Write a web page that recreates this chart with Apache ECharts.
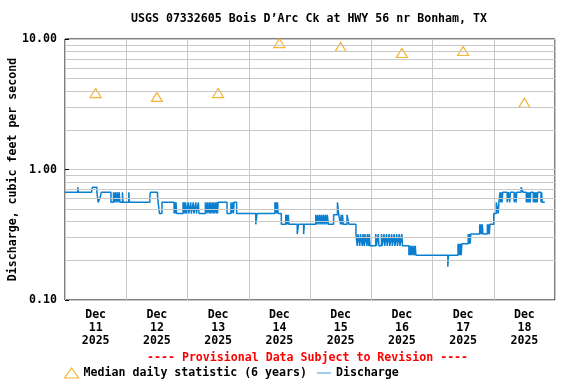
<!DOCTYPE html>
<html>
<head>
<meta charset="utf-8">
<script src="https://cdn.jsdelivr.net/npm/echarts@6/dist/echarts.min.js"></script>
<style>
  html, body { margin: 0; padding: 0; background: #fff; }
  #chart { width: 576px; height: 384px; }
</style>
</head>
<body>
<div id="chart"></div>
<script>
var dayLabels = ['Dec\n11\n2025', 'Dec\n12\n2025', 'Dec\n13\n2025', 'Dec\n14\n2025',
  'Dec\n15\n2025', 'Dec\n16\n2025', 'Dec\n17\n2025', 'Dec\n18\n2025'];

// median daily statistic, plotted at noon of each day
var medianDates = ['2025-12-11 12:00', '2025-12-12 12:00', '2025-12-13 12:00', '2025-12-14 12:00',
  '2025-12-15 12:00', '2025-12-16 12:00', '2025-12-17 12:00', '2025-12-18 12:00'];
var medianValues = [3.85, 3.6, 3.85, 9.3, 8.7, 7.8, 8.1, 3.25];

// 15-minute discharge, only the points where the value changes
var flowTimes = [
  '12-11 00:00', '12-11 05:00', '12-11 05:15', '12-11 10:30', '12-11 10:45', '12-11 12:30',
  '12-11 13:00', '12-11 13:45', '12-11 14:15', '12-11 18:00', '12-11 19:00', '12-11 19:15',
  '12-11 19:45', '12-11 20:00', '12-11 20:30', '12-11 20:45', '12-11 21:15', '12-11 21:30',
  '12-11 22:30', '12-11 22:45', '12-12 01:00', '12-12 01:15', '12-12 09:15', '12-12 09:30',
  '12-12 12:15', '12-12 13:00', '12-12 14:00', '12-12 18:45', '12-12 19:00', '12-12 19:15',
  '12-12 19:30', '12-12 19:45', '12-12 22:15', '12-12 22:30', '12-12 22:45', '12-12 23:00',
  '12-12 23:15', '12-12 23:30', '12-13 00:15', '12-13 00:30', '12-13 01:15', '12-13 01:30',
  '12-13 02:15', '12-13 02:30', '12-13 03:15', '12-13 03:30', '12-13 04:15', '12-13 04:30',
  '12-13 07:00', '12-13 07:15', '12-13 07:45', '12-13 08:00', '12-13 08:30', '12-13 08:45',
  '12-13 09:00', '12-13 09:15', '12-13 09:45', '12-13 10:00', '12-13 10:15', '12-13 10:30',
  '12-13 11:00', '12-13 11:15', '12-13 11:30', '12-13 11:45', '12-13 12:00', '12-13 15:30',
  '12-13 17:00', '12-13 17:15', '12-13 17:45', '12-13 18:00', '12-13 18:15', '12-13 19:15',
  '12-14 02:45', '12-14 03:15', '12-14 10:15', '12-14 10:30', '12-14 10:45', '12-14 11:00',
  '12-14 11:15', '12-14 11:30', '12-14 12:45', '12-14 14:30', '12-14 14:45', '12-14 15:00',
  '12-14 15:15', '12-14 15:30', '12-14 15:45', '12-14 19:00', '12-14 19:30', '12-14 21:30',
  '12-14 21:45', '12-15 02:15', '12-15 02:45', '12-15 03:00', '12-15 03:30', '12-15 03:45',
  '12-15 04:15', '12-15 04:30', '12-15 05:00', '12-15 05:15', '12-15 05:45', '12-15 06:00',
  '12-15 06:30', '12-15 06:45', '12-15 07:15', '12-15 09:15', '12-15 10:45', '12-15 11:15',
  '12-15 12:00', '12-15 12:15', '12-15 12:30', '12-15 12:45', '12-15 13:00', '12-15 14:30',
  '12-15 15:15', '12-15 18:00', '12-15 18:30', '12-15 18:45', '12-15 19:30', '12-15 19:45',
  '12-15 20:30', '12-15 20:45', '12-15 21:15', '12-15 21:30', '12-15 22:15', '12-15 22:30',
  '12-15 23:00', '12-15 23:15', '12-15 23:30', '12-16 01:45', '12-16 02:00', '12-16 02:45',
  '12-16 03:00', '12-16 04:00', '12-16 04:15', '12-16 05:00', '12-16 05:15', '12-16 06:00',
  '12-16 06:15', '12-16 07:00', '12-16 07:15', '12-16 08:00', '12-16 08:15', '12-16 09:00',
  '12-16 09:15', '12-16 10:00', '12-16 10:15', '12-16 11:00', '12-16 11:15', '12-16 12:00',
  '12-16 12:15', '12-16 14:45', '12-16 15:00', '12-16 15:15', '12-16 15:30', '12-16 15:45',
  '12-16 16:00', '12-16 16:30', '12-16 16:45', '12-16 17:00', '12-16 17:15', '12-16 17:30',
  '12-17 06:00', '12-17 06:15', '12-17 10:00', '12-17 10:15', '12-17 10:30', '12-17 10:45',
  '12-17 11:00', '12-17 11:15', '12-17 11:30', '12-17 14:00', '12-17 14:15', '12-17 14:30',
  '12-17 14:45', '12-17 15:00', '12-17 18:30', '12-17 18:45', '12-17 19:00', '12-17 19:15',
  '12-17 19:30', '12-17 19:45', '12-17 21:30', '12-17 21:45', '12-17 22:00', '12-17 22:15',
  '12-17 22:30', '12-18 00:00', '12-18 01:00', '12-18 01:45', '12-18 02:00', '12-18 02:30',
  '12-18 02:45', '12-18 03:00', '12-18 03:15', '12-18 03:30', '12-18 05:15', '12-18 05:45',
  '12-18 06:15', '12-18 06:30', '12-18 08:00', '12-18 08:15', '12-18 08:45', '12-18 09:00',
  '12-18 10:45', '12-18 11:30', '12-18 12:45', '12-18 13:00', '12-18 13:15', '12-18 13:30',
  '12-18 13:45', '12-18 14:00', '12-18 14:15', '12-18 14:30', '12-18 15:30', '12-18 15:45',
  '12-18 16:00', '12-18 16:15', '12-18 16:30', '12-18 16:45', '12-18 17:00', '12-18 17:15',
  '12-18 18:30', '12-18 18:45', '12-18 19:00', '12-18 20:00'
];
var flowValues = [
  0.67, 0.73, 0.67, 0.70, 0.73, 0.67,
  0.56, 0.61, 0.67, 0.56, 0.67, 0.56,
  0.67, 0.56, 0.67, 0.56, 0.67, 0.56,
  0.67, 0.56, 0.67, 0.56, 0.62, 0.67,
  0.62, 0.46, 0.56, 0.46, 0.56, 0.46,
  0.56, 0.46, 0.56, 0.46, 0.56, 0.46,
  0.56, 0.46, 0.56, 0.46, 0.56, 0.46,
  0.56, 0.46, 0.56, 0.46, 0.56, 0.46,
  0.56, 0.46, 0.56, 0.46, 0.56, 0.46,
  0.56, 0.46, 0.56, 0.46, 0.56, 0.46,
  0.56, 0.46, 0.56, 0.46, 0.56, 0.46,
  0.56, 0.46, 0.56, 0.46, 0.56, 0.46,
  0.38, 0.46, 0.56, 0.46, 0.56, 0.46,
  0.56, 0.46, 0.38, 0.45, 0.38, 0.45,
  0.38, 0.45, 0.38, 0.32, 0.38, 0.32,
  0.38, 0.45, 0.38, 0.45, 0.38, 0.45,
  0.38, 0.45, 0.38, 0.45, 0.38, 0.45,
  0.38, 0.45, 0.38, 0.45, 0.56, 0.45,
  0.38, 0.45, 0.38, 0.45, 0.38, 0.45,
  0.38, 0.32, 0.26, 0.32, 0.26, 0.32,
  0.26, 0.32, 0.26, 0.32, 0.26, 0.32,
  0.26, 0.32, 0.26, 0.32, 0.26, 0.32,
  0.26, 0.32, 0.26, 0.32, 0.26, 0.32,
  0.26, 0.32, 0.26, 0.32, 0.26, 0.32,
  0.26, 0.32, 0.26, 0.32, 0.26, 0.32,
  0.26, 0.22, 0.26, 0.22, 0.26, 0.22,
  0.26, 0.22, 0.26, 0.22, 0.26, 0.22,
  0.18, 0.22, 0.27, 0.22, 0.27, 0.22,
  0.27, 0.22, 0.27, 0.32, 0.27, 0.32,
  0.27, 0.32, 0.38, 0.32, 0.38, 0.32,
  0.38, 0.32, 0.38, 0.32, 0.38, 0.32,
  0.38, 0.46, 0.56, 0.46, 0.56, 0.67,
  0.56, 0.67, 0.56, 0.67, 0.56, 0.67,
  0.56, 0.67, 0.56, 0.67, 0.56, 0.67,
  0.73, 0.67, 0.56, 0.67, 0.56, 0.67,
  0.56, 0.67, 0.56, 0.67, 0.56, 0.67,
  0.56, 0.67, 0.56, 0.67, 0.56, 0.67,
  0.56, 0.67, 0.56, 0.56
];

// minor log gridlines between the labelled decades
var minorLevels = [0.2, 0.3, 0.4, 0.5, 0.6, 0.7, 0.8, 0.9, 2, 3, 4, 5, 6, 7, 8, 9];

var font = '"DejaVu Sans Mono", monospace';
var flowColor = '#0a7fd0';
var medianColor = '#f5a000';
var gridColor = '#c8c8c8';

var chart = echarts.init(document.getElementById('chart'), null, { renderer: 'canvas' });

chart.setOption({
  animation: false,
  backgroundColor: '#fff',
  textStyle: { fontFamily: font, fontWeight: 'bold', fontSize: 11.6, color: '#000' },
  grid: { left: 65, right: 21, top: 39, bottom: 84, outerBoundsMode: 'none', containLabel: false,
    show: true, borderColor: '#000', borderWidth: 1, backgroundColor: 'transparent' },
  graphic: [
    { type: 'text', left: 310 - 179, top: 13,
      style: { text: 'USGS 07332605 Bois D\u2019Arc Ck at HWY 56 nr Bonham, TX', font: 'bold 11.6px ' + font, fill: '#000' } },
    { type: 'text', left: 147, top: 352,
      style: { text: '---- Provisional Data Subject to Revision ----', font: 'bold 11.6px ' + font, fill: '#ff0000' } }
  ],
  legend: {
    left: 64, top: 367, padding: 0, itemGap: 10, itemWidth: 14, itemHeight: 10,
    textStyle: { fontFamily: font, fontWeight: 'bold', fontSize: 11.6, color: '#000' },
    data: [
      { name: 'Median daily statistic (6 years)', icon: 'triangle',
        itemStyle: { color: 'transparent', borderColor: medianColor, borderWidth: 1.2 } },
      { name: 'Discharge', icon: 'path://M0,5 L18,5 L18,6 L0,6 Z', itemStyle: { color: flowColor } }
    ]
  },
  xAxis: [
    {
      type: 'time',
      min: '2025-12-11 00:00', max: '2025-12-19 00:00',
      minInterval: 86400000, maxInterval: 86400000,
      axisLine: { show: false },
      axisTick: { show: false },
      axisLabel: { show: false },
      splitLine: { show: true, lineStyle: { color: gridColor, width: 1 } }
    },
    {
      type: 'category',
      position: 'bottom',
      data: dayLabels,
      boundaryGap: true,
      axisLine: { show: false },
      axisTick: { show: false },
      splitLine: { show: false },
      axisLabel: { margin: 8, lineHeight: 13, fontFamily: font, fontWeight: 'bold', fontSize: 11.6, color: '#000', interval: 0 }
    }
  ],
  yAxis: {
    type: 'log', logBase: 10, min: 0.1, max: 10,
    name: 'Discharge, cubic feet per second',
    nameLocation: 'middle', nameGap: 46, nameRotate: 90, nameMoveOverlap: false,
    nameTextStyle: { fontFamily: font, fontWeight: 'bold', fontSize: 11.6, color: '#000' },
    axisLine: { show: false },
    axisTick: { show: true, inside: true, length: 4, lineStyle: { color: '#000' } },
    axisLabel: { margin: 8, fontFamily: font, fontWeight: 'bold', fontSize: 11.6, color: '#000',
      formatter: function (v) { return Number(v).toFixed(2); } },
    splitLine: { show: true, lineStyle: { color: gridColor, width: 1 } }
  },
  series: [
    {
      name: 'Discharge',
      type: 'line',
      step: 'end',
      symbol: 'none',
      xAxisIndex: 0,
      lineStyle: { color: flowColor, width: 1.5 },
      itemStyle: { color: flowColor },
      data: flowTimes.map(function (t, i) { return ['2025-' + t, flowValues[i]]; }),
      markLine: {
        silent: true, symbol: ['none', 'none'], label: { show: false },
        lineStyle: { color: gridColor, width: 1, type: 'solid' },
        data: minorLevels.map(function (v) { return { yAxis: v }; })
      },
      z: 3
    },
    {
      name: 'Median daily statistic (6 years)',
      type: 'scatter',
      xAxisIndex: 0,
      symbol: 'triangle',
      symbolSize: [11, 9],
      itemStyle: { color: 'transparent', borderColor: medianColor, borderWidth: 1.2 },
      data: medianDates.map(function (d, i) { return [d, medianValues[i]]; }),
      z: 4
    }
  ]
});

window.addEventListener('resize', function () { chart.resize(); });
</script>
</body>
</html>
